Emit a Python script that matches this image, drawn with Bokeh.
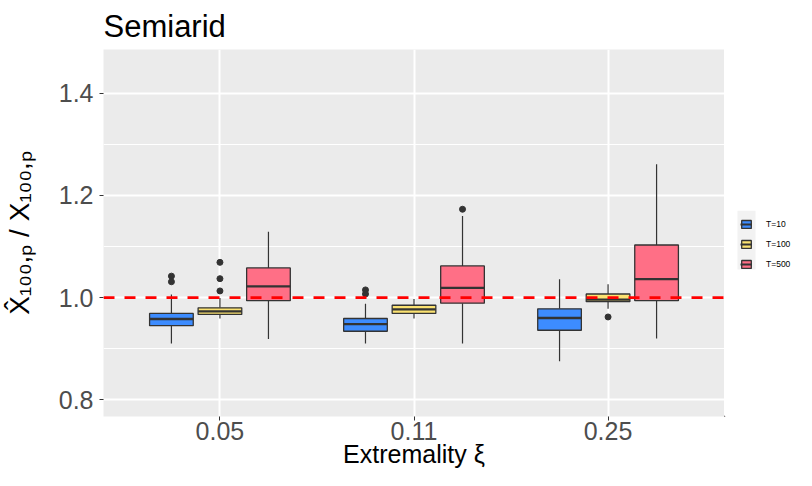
from bokeh.plotting import figure
from bokeh.layouts import row
from bokeh.models import (Range1d, FixedTicker, Span, Legend, LegendItem, ColumnDataSource,
                          BoxAnnotation)
from bokeh.embed import file_html
from bokeh.resources import INLINE

# ---- data ----
xi_labels = ["0.05", "0.11", "0.25"]
series = ["T=10", "T=100", "T=500"]
colors = ["#3D8CFF", "#FBE271", "#FF6F86"]

# one list per series, one value per extremality group
whisker_low = [[0.910, 0.910, 0.875], [0.959, 0.959, 0.978], [0.919, 0.910, 0.920]]
quart_1 = [[0.945, 0.934, 0.936], [0.967, 0.969, 0.992], [0.994, 0.989, 0.994]]
medians = [[0.958, 0.948, 0.960], [0.973, 0.977, 0.996], [1.022, 1.019, 1.036]]
quart_3 = [[0.969, 0.959, 0.978], [0.980, 0.985, 1.007], [1.058, 1.062, 1.103]]
whisker_high = [[1.006, 0.988, 1.036], [0.999, 0.997, 1.026], [1.129, 1.160, 1.261]]
outlier_vals = [
    [[1.042, 1.031], [1.015, 1.007], []],
    [[1.069, 1.037, 1.013], [], [0.962]],
    [[], [1.173], []],
]

y_major = [0.8, 1.0, 1.2, 1.4]
y_minor = [0.9, 1.1, 1.3]
ref_value = 1.0

dodge_step = 0.25
box_w = 0.225

OUT = "#333333"

p = figure(width=724, height=470, output_backend="svg", toolbar_location=None,
           x_range=Range1d(0.4, 3.6), y_range=Range1d(0.767, 1.486),
           min_border_left=99, min_border_right=0, min_border_top=40, min_border_bottom=54)

p.background_fill_color = "#EBEBEB"
p.border_fill_color = "white"
p.outline_line_color = None

p.title.text = "Semiarid"
p.title.text_font = "Liberation Sans"
p.title.text_font_size = "31px"
p.title.text_font_style = "normal"
p.title.text_color = "black"
p.title.align = "left"
p.title.offset = 0
p.title.standoff = 12

for j, name in enumerate(series):
    xs = [i + 1 + (j - 1) * dodge_step for i in range(len(xi_labels))]
    src = ColumnDataSource(dict(x=xs, lo=whisker_low[j], q1=quart_1[j], med=medians[j],
                                q3=quart_3[j], hi=whisker_high[j]))
    p.segment(x0="x", x1="x", y0="q3", y1="hi", source=src, line_color=OUT, line_width=1.2)
    p.segment(x0="x", x1="x", y0="lo", y1="q1", source=src, line_color=OUT, line_width=1.2)
    p.vbar(x="x", width=box_w, bottom="q1", top="q3", source=src, fill_color=colors[j],
           line_color=OUT, line_width=1.3)
    med_src = ColumnDataSource(dict(x0=[x - box_w / 2 for x in xs], x1=[x + box_w / 2 for x in xs],
                                    y=medians[j]))
    p.segment(x0="x0", x1="x1", y0="y", y1="y", source=med_src, line_color=OUT, line_width=2.3)
    ox, oy = [], []
    for i, vals in enumerate(outlier_vals[j]):
        for v in vals:
            ox.append(xs[i])
            oy.append(v)
    p.scatter(ox, oy, size=6, color=OUT)

p.add_layout(Span(location=ref_value, dimension="width", line_color="red", line_width=2.7,
                  line_dash="11 10", level="overlay"))

# axes
p.xaxis.ticker = FixedTicker(ticks=[1, 2, 3])
p.xaxis.major_label_overrides = {i + 1: lab for i, lab in enumerate(xi_labels)}
p.yaxis.ticker = FixedTicker(ticks=y_major, minor_ticks=y_minor)
p.yaxis.major_label_overrides = {v: f"{v:.1f}" for v in y_major}

for ax in (p.xaxis[0], p.yaxis[0]):
    ax.axis_line_color = None
    ax.major_tick_line_color = OUT
    ax.major_tick_in = 0
    ax.major_tick_out = 4
    ax.minor_tick_line_color = None
    ax.major_label_text_font = "Liberation Sans"
    ax.major_label_text_font_size = "25px"
    ax.major_label_text_color = "#4D4D4D"
    ax.axis_label_text_font = "Liberation Sans"
    ax.axis_label_text_font_style = "normal"
    ax.axis_label_text_color = "black"

p.xaxis.major_label_standoff = 1
p.xaxis.axis_label = "Extremality ξ"
p.xaxis.axis_label_text_font_size = "25px"
p.xaxis.axis_label_standoff = -3

p.yaxis.major_label_standoff = 6
p.yaxis.axis_label = "X̂₁₀₀,ₚ / X₁₀₀,ₚ"
p.yaxis.axis_label_text_font_size = "28px"
p.yaxis.axis_label_standoff = 21

p.xgrid.grid_line_color = "white"
p.xgrid.grid_line_width = 2
p.ygrid.grid_line_color = "white"
p.ygrid.grid_line_width = 2
p.ygrid.minor_grid_line_color = "white"
p.ygrid.minor_grid_line_width = 1

# ---- legend in a narrow companion figure (its frame lines up with the main one) ----
lg = figure(width=72, height=470, output_backend="svg", toolbar_location=None,
            x_range=Range1d(0, 72), y_range=p.y_range,
            x_axis_location=None, y_axis_location=None,
            min_border=0, min_border_left=0, min_border_right=0, min_border_top=0, min_border_bottom=0)
lg.outline_line_color = None
lg.grid.visible = False
lg.background_fill_color = "white"
lg.border_fill_color = "white"

# grey key background behind the legend keys
lg.add_layout(BoxAnnotation(left=13, right=31, top=1.170, bottom=1.055, fill_color="#F2F2F2",
                            fill_alpha=1, line_color=None, level="underlay"))

items = []
for j, name in enumerate(series):
    hidden = ColumnDataSource(dict(x=[-100], top=[0.1], bottom=[0.0],
                                   x0=[-100], x1=[-99], y0=[0.0], y1=[0.0]))
    r_box = lg.vbar(x="x", width=1, top="top", bottom="bottom", source=hidden,
                    fill_color=colors[j], line_color=OUT, line_width=1.3)
    r_med = lg.segment(x0="x0", x1="x1", y0="y0", y1="y1", source=hidden,
                       line_color=OUT, line_width=2)
    items.append(LegendItem(label=name, renderers=[r_box, r_med]))

legend = Legend(items=items, location=(16, 147), orientation="vertical",
                glyph_width=12, glyph_height=10, label_standoff=14, spacing=10,
                padding=0, margin=0, border_line_color=None, background_fill_alpha=0,
                label_text_font="Liberation Sans", label_text_font_size="8.5px",
                label_text_color="black")
lg.add_layout(legend)

layout = row(p, lg)
open("out.html", "w").write(file_html(layout, INLINE))
